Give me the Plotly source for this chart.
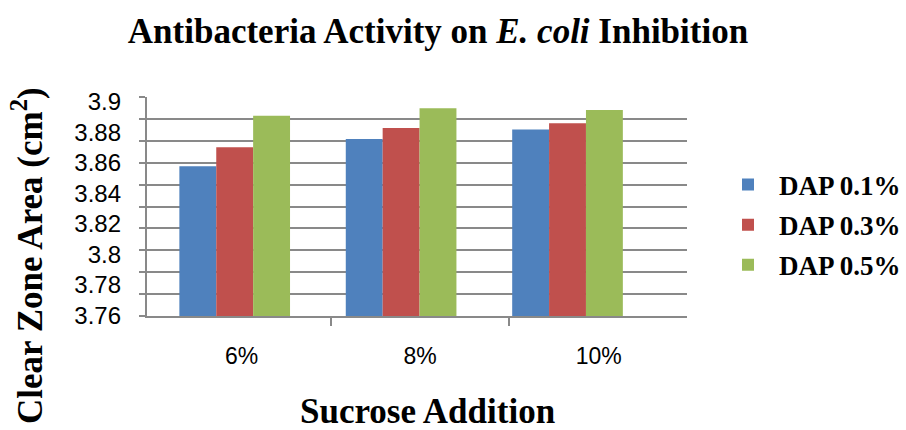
import plotly.graph_objects as go

categories = ["6%", "8%", "10%"]
series_names = ["DAP 0.1%", "DAP 0.3%", "DAP 0.5%"]
dap_01 = [3.8557, 3.8731, 3.8793]
dap_03 = [3.8678, 3.8802, 3.8832]
dap_05 = [3.8880, 3.8928, 3.8917]
series_values = [dap_01, dap_03, dap_05]
colors = ["#4F81BD", "#C0504D", "#9BBB59"]
y_tick_values = [3.9, 3.88, 3.86, 3.84, 3.82, 3.8, 3.78, 3.76]
y_tick_labels = ["3.9", "3.88", "3.86", "3.84", "3.82", "3.8", "3.78", "3.76"]

serif = "Liberation Serif, Times New Roman, serif"
sans = "Liberation Sans, Arial, sans-serif"
grid_col = "#898989"

fig = go.Figure()
for name, vals, col in zip(series_names, series_values, colors):
    fig.add_trace(go.Bar(x=[0, 1, 2], y=vals, name=name, marker_color=col,
                         marker_line_width=0, legendgroup=name))

# invisible helper trace so the overlaying label axes are created
fig.add_trace(go.Scatter(x=[0, 1, 2], y=[None, None, None], xaxis="x2", yaxis="y2",
                         showlegend=False, hoverinfo="skip", mode="markers"))

fig.update_layout(
    width=906, height=430,
    margin=dict(l=147, r=219, t=97, b=114, autoexpand=False),
    paper_bgcolor="white", plot_bgcolor="white",
    barmode="group", bargap=0.335, bargroupgap=0,
    showlegend=True,
    title=dict(text="Antibacteria Activity on <i>E. coli</i> Inhibition",
               font=dict(family=serif, size=35, color="black", weight="bold"),
               x=438 / 906, xanchor="center", xref="container",
               y=1 - 31 / 430, yanchor="middle", yref="container", automargin=False),
    xaxis=dict(range=[-0.527, 2.718], showticklabels=False, ticks="",
               showgrid=False, zeroline=False, showline=True,
               linecolor=grid_col, linewidth=2),
    xaxis2=dict(overlaying="x", anchor="y", side="bottom",
                range=[-0.5305, 2.4947], tickmode="array", tickvals=[0, 1, 2],
                ticktext=categories, ticks="", showgrid=False, zeroline=False,
                showline=False, tickfont=dict(family=sans, size=23, color="black"),
                ticklabelstandoff=24,
                minor=dict(tickmode="array", tickvals=[0.5, 1.5, 2.5], ticks="outside",
                           ticklen=9, tickcolor=grid_col, tickwidth=2)),
    yaxis=dict(range=[3.76, 3.9], tick0=3.76, dtick=0.014, showticklabels=False,
               showgrid=True, gridcolor=grid_col, gridwidth=2, zeroline=False,
               showline=True, linecolor=grid_col, linewidth=2,
               ticks="outside", ticklen=6, tickcolor=grid_col, tickwidth=2),
    yaxis2=dict(overlaying="y", anchor="x", side="left",
                range=[3.7595, 3.9031], tickmode="array", tickvals=y_tick_values,
                ticktext=y_tick_labels, ticks="", showgrid=False, zeroline=False,
                showline=False, tickfont=dict(family=sans, size=24, color="black"),
                ticklabelstandoff=25),
    legend=dict(x=(717 - 147) / 540, y=(316 - 225) / 219, xanchor="left", yanchor="middle",
                font=dict(family=serif, size=27, color="black", weight="bold"),
                tracegroupgap=2, itemwidth=52, bgcolor="rgba(0,0,0,0)"),
    annotations=[
        dict(text="<b>Sucrose Addition</b>", xref="paper", yref="paper",
             x=(427 - 147) / 540, y=-(411 - 316) / 219, xanchor="center", yanchor="middle",
             showarrow=False, font=dict(family=serif, size=35, color="black")),
        dict(text="<b>Clear Zone Area (cm<sup>2</sup>)</b>", xref="paper", yref="paper",
             x=(27 - 147) / 540, y=(316 - 256) / 219, xanchor="center", yanchor="middle",
             textangle=-90, showarrow=False, font=dict(family=serif, size=35, color="black")),
    ],
)

fig.write_html("out.html", config={"displayModeBar": False},
               post_script="document.body.style.margin='0';")
